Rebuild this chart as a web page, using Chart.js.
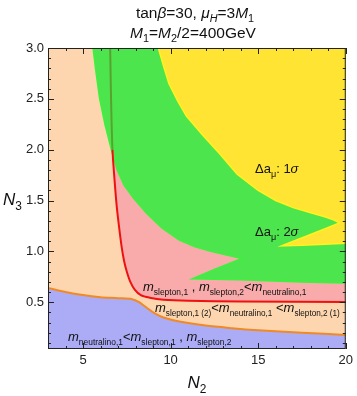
<!DOCTYPE html>
<html>
<head>
<meta charset="utf-8">
<script src="https://cdn.jsdelivr.net/npm/chart.js@4.4.1/dist/chart.umd.min.js"></script>
<style>
  html, body { margin: 0; padding: 0; background: #fff; }
</style>
</head>
<body>
<canvas id="regionChart" width="357" height="396"></canvas>
<script>
// axis ranges and tick labels
const xRange = [3, 20];
const yRange = [0.04, 3.0];
const xMajorTicks = [5, 10, 15, 20];
const yMajorTicks = [0.5, 1.0, 1.5, 2.0, 2.5, 3.0];

// orange line: below it m_neutralino,1 < m_slepton,1 , m_slepton,2 (blue)
const orangeN2 = [3, 4, 5, 6, 7, 7.8, 8.2, 8.6, 9.1, 9.6, 10.5, 12, 13.5, 15, 17.5, 20];
const orangeN3 = [0.64, 0.60, 0.57, 0.55, 0.54, 0.53, 0.50, 0.45, 0.39, 0.35, 0.31, 0.27, 0.245, 0.225, 0.20, 0.178];

// red line: above/right of it m_slepton,1 , m_slepton,2 < m_neutralino,1 (pink)
const redN2 = [6.55, 6.6, 6.68, 6.8, 6.92, 7.05, 7.2, 7.35, 7.5, 7.7, 7.95, 8.3, 8.8, 9.6, 11, 14, 20];
const redN3 = [3.0, 2.5, 2.0, 1.7, 1.45, 1.25, 1.05, 0.9, 0.8, 0.7, 0.625, 0.57, 0.545, 0.525, 0.515, 0.508, 0.503];

// Delta a_mu 2 sigma region outline (green)
const green2sN2 = [5.57, 5.75, 5.95, 6.25, 6.62, 6.95, 7.35, 7.9, 8.6, 9.5, 10.5, 11.4, 12.3, 13.2, 14.07, 12.6, 11.23, 12.5, 14, 15.5, 17.5, 20, 20];
const green2sN3 = [3.0, 2.75, 2.5, 2.25, 2.0, 1.8, 1.65, 1.52, 1.38, 1.23, 1.11, 1.045, 1.0, 0.965, 0.93, 0.83, 0.73, 0.725, 0.72, 0.712, 0.70, 0.69, 3.0];

// Delta a_mu 1 sigma region outline (yellow)
const yellow1sN2 = [9.3, 9.6, 9.9, 10.4, 10.9, 11.8, 12.8, 13.8, 15, 16, 17, 18, 18.8, 19.3, 19.64, 18.5, 17.3, 16.33, 17.5, 18.8, 20, 20];
const yellow1sN3 = [3.0, 2.82, 2.65, 2.48, 2.33, 2.15, 1.96, 1.76, 1.6, 1.5, 1.43, 1.38, 1.34, 1.31, 1.28, 1.2, 1.12, 1.054, 1.06, 1.07, 1.08, 3.0];

const toPts = (xs, ys) => xs.map((x, i) => ({ x: x, y: ys[i] }));

const FONT = "'Liberation Sans', Arial, sans-serif";

// draw a run of text pieces; flags: i = italic, s = subscript
function rich(ctx, x, y, parts, base, align, subRatio) {
  const r = subRatio || 0.7;
  const pieces = parts.map(([t, f]) => {
    const sub = f && f.includes('s');
    const it = f && f.includes('i');
    const size = sub ? base * r : base;
    const font = (it ? 'italic ' : '') + size + 'px ' + FONT;
    ctx.font = font;
    return { t, font, w: ctx.measureText(t).width, dy: sub ? base * 0.28 : 0 };
  });
  const total = pieces.reduce((s, p) => s + p.w, 0);
  let cx = align === 'center' ? x - total / 2 : x;
  ctx.textAlign = 'left';
  ctx.textBaseline = 'alphabetic';
  ctx.fillStyle = '#111';
  pieces.forEach(p => {
    ctx.font = p.font;
    ctx.fillText(p.t, cx, y + p.dy);
    cx += p.w;
  });
}

const framePlugin = {
  id: 'frame',
  beforeDatasetsDraw(chart) {
    const { ctx, chartArea: a } = chart;
    ctx.save();
    ctx.fillStyle = '#FDD6B0';
    ctx.fillRect(a.left, a.top, a.right - a.left, a.bottom - a.top);
    ctx.restore();
  },
  afterDraw(chart) {
    const { ctx, chartArea: a } = chart;
    const xs = chart.scales.x, ys = chart.scales.y;
    ctx.save();
    ctx.strokeStyle = '#222';
    ctx.lineWidth = 1;
    ctx.strokeRect(a.left + 0.5, a.top + 0.5, a.right - a.left - 1, a.bottom - a.top - 1);
    ctx.beginPath();
    // x ticks, inward on bottom and top
    for (let v = 3; v <= 20; v++) {
      const px = Math.round(xs.getPixelForValue(v)) + 0.5;
      const len = v % 5 === 0 ? 6 : 3;
      ctx.moveTo(px, a.bottom); ctx.lineTo(px, a.bottom - len);
      ctx.moveTo(px, a.top); ctx.lineTo(px, a.top + len);
    }
    // y ticks, inward on left and right
    for (let k = 1; k <= 30; k++) {
      const v = k / 10;
      const py = Math.round(ys.getPixelForValue(v)) + 0.5;
      const len = k % 5 === 0 ? 6 : 3;
      ctx.moveTo(a.left, py); ctx.lineTo(a.left + len, py);
      ctx.moveTo(a.right, py); ctx.lineTo(a.right - len, py);
    }
    ctx.stroke();

    // title
    rich(ctx, 195, 18, [['tan', ''], ['β', 'i'], ['=30, ', ''], ['μ', 'i'], ['H', 'si'], ['=3', ''], ['M', 'i'], ['1', 's']], 15.5, 'center');
    rich(ctx, 193, 38, [['M', 'i'], ['1', 's'], ['=', ''], ['M', 'i'], ['2', 's'], ['/2=400GeV', '']], 15.5, 'center');

    // axis titles
    rich(ctx, 3, 205, [['N', 'i'], ['3', 's']], 17, 'left');
    rich(ctx, 197, 388, [['N', 'i'], ['2', 's']], 17, 'center');

    // region labels
    rich(ctx, 255, 173, [['Δa', ''], ['μ', 's'], [': 1', ''], ['σ', 'i']], 13, 'left');
    rich(ctx, 255, 236, [['Δa', ''], ['μ', 's'], [': 2', ''], ['σ', 'i']], 13, 'left');
    rich(ctx, 143, 291, [['m', 'i'], ['slepton,1', 's'], [' , ', ''], ['m', 'i'], ['slepton,2', 's'], ['<', ''], ['m', 'i'], ['neutralino,1', 's']], 13, 'left', 0.65);
    rich(ctx, 155, 312, [['m', 'i'], ['slepton,1 (2)', 's'], ['<', ''], ['m', 'i'], ['neutralino,1', 's'], [' <', ''], ['m', 'i'], ['slepton,2 (1)', 's']], 13, 'left', 0.63);
    rich(ctx, 68, 341, [['m', 'i'], ['neutralino,1', 's'], ['<', ''], ['m', 'i'], ['slepton,1', 's'], [' , ', ''], ['m', 'i'], ['slepton,2', 's']], 13, 'left', 0.65);
    ctx.restore();
  }
};

const chart = new Chart(document.getElementById('regionChart'), {
  type: 'scatter',
  data: {
    datasets: [
      {
        // blue region + orange boundary
        data: toPts(orangeN2, orangeN3),
        showLine: true, pointRadius: 0, tension: 0.3,
        borderColor: '#F08A24', borderWidth: 2,
        backgroundColor: '#ABABF6', fill: 'start', order: 6
      },
      {
        // pink region
        data: toPts(redN2, redN3),
        showLine: true, pointRadius: 0, tension: 0.3,
        borderWidth: 0, borderColor: 'rgba(0,0,0,0)',
        backgroundColor: '#F9AAAA', fill: 'end', order: 5
      },
      {
        data: toPts(green2sN2, green2sN3),
        showLine: true, pointRadius: 0, tension: 0,
        borderColor: '#3CF23C', borderWidth: 1.5,
        backgroundColor: '#4DE54D', fill: 'shape', order: 4
      },
      {
        data: toPts(yellow1sN2, yellow1sN3),
        showLine: true, pointRadius: 0, tension: 0,
        borderColor: '#FFF21E', borderWidth: 1.5,
        backgroundColor: '#FFE433', fill: 'shape', order: 3
      },
      {
        // red boundary, seen darkened where it runs under the green band
        data: toPts(redN2, redN3),
        showLine: true, pointRadius: 0, tension: 0.3,
        borderWidth: 2, fill: false, order: 2,
        borderColor: '#EE1111',
        segment: {
          borderColor: c => c.p1.parsed.y >= 1.95 ? 'rgba(90,150,40,0.85)' : '#EE1111'
        }
      }
    ]
  },
  options: {
    responsive: false,
    animation: false,
    devicePixelRatio: 1,
    layout: { padding: { top: 48, right: 9, left: 0, bottom: 0 } },
    plugins: { legend: { display: false }, tooltip: { enabled: false } },
    scales: {
      x: {
        type: 'linear', min: xRange[0], max: xRange[1],
        grid: { display: false, drawTicks: false },
        border: { display: false },
        afterBuildTicks: s => { s.ticks = xMajorTicks.map(v => ({ value: v })); },
        afterFit: s => { s.height = 47; },
        ticks: { color: '#222', padding: 4, font: { family: FONT, size: 13 }, maxRotation: 0 }
      },
      y: {
        type: 'linear', min: yRange[0], max: yRange[1],
        grid: { display: false, drawTicks: false },
        border: { display: false },
        afterBuildTicks: s => { s.ticks = yMajorTicks.map(v => ({ value: v })); },
        afterFit: s => { s.width = 48; },
        ticks: { color: '#222', padding: 4, font: { family: FONT, size: 13 }, callback: v => v.toFixed(1) }
      }
    }
  },
  plugins: [framePlugin]
});
</script>
</body>
</html>
